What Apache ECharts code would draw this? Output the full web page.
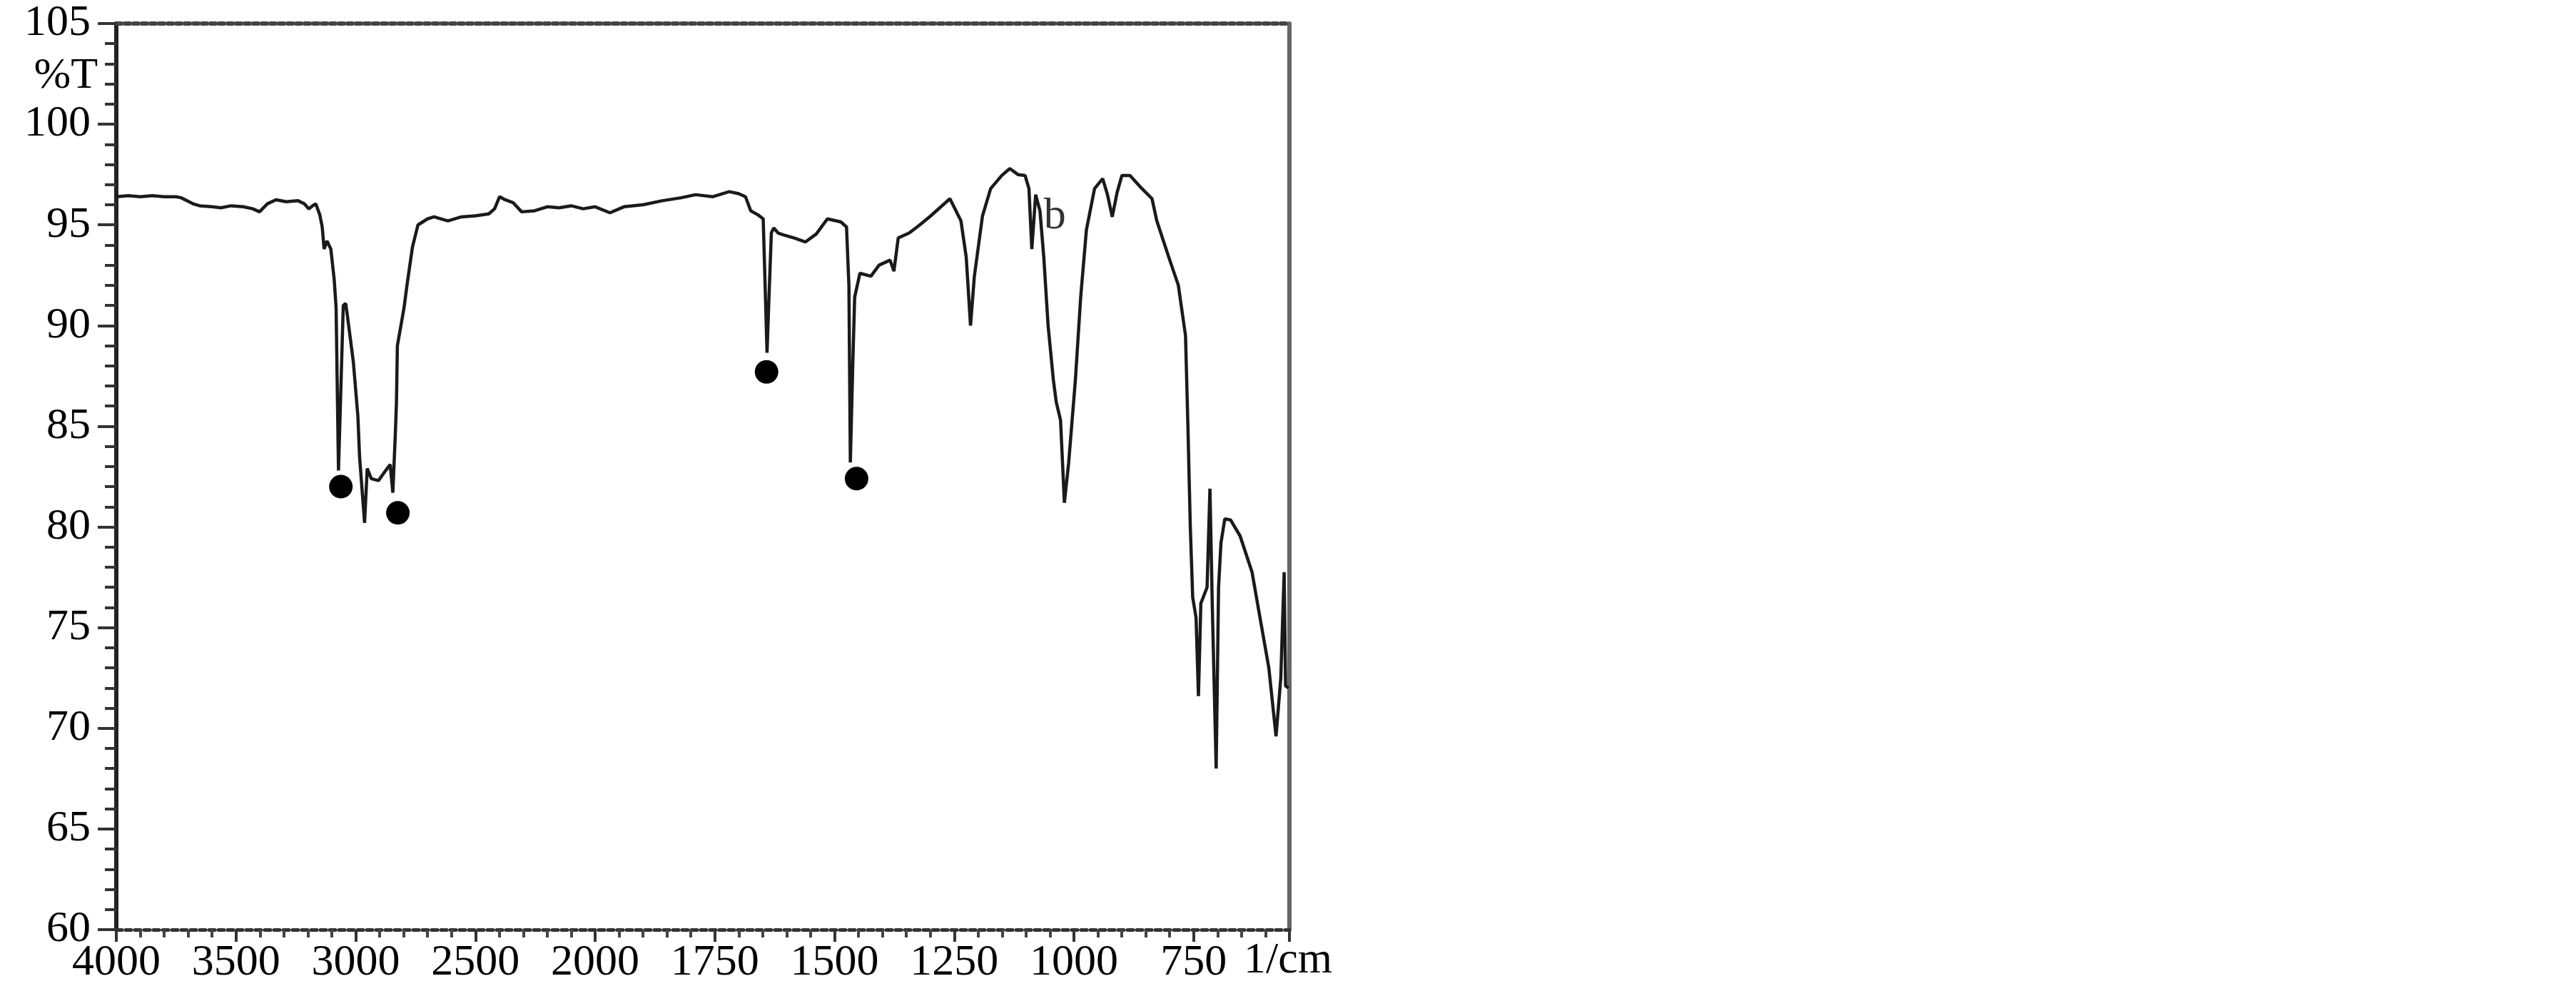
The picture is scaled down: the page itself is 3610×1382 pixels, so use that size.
<!DOCTYPE html>
<html>
<head>
<meta charset="utf-8">
<title>IR spectrum</title>
<script src="https://cdn.jsdelivr.net/npm/echarts@6.0.0/dist/echarts.min.js"></script>
<style>
  html, body { margin: 0; padding: 0; background: #fff; }
  #main { width: 3610px; height: 1382px; }
</style>
</head>
<body>
<div id="main"></div>
<script>
// wavenumber (1/cm) and transmittance (%T)
const wavenumbers = [
  4000, 3950, 3900, 3850, 3800, 3750, 3730, 3705, 3680, 3652, 3600, 3563, 3520, 3470, 3430, 3402,
  3369, 3333, 3290, 3241, 3215, 3196, 3180, 3167, 3150, 3140, 3132, 3120, 3104, 3090, 3082, 3072,
  3052, 3042, 3036, 3010, 2991, 2984, 2963, 2952, 2935, 2905, 2875, 2856, 2845, 2835, 2830, 2826,
  2798, 2786, 2763, 2740, 2700, 2673, 2615, 2558, 2500, 2444, 2420, 2399, 2376, 2342, 2307, 2253,
  2200, 2150, 2100, 2050, 2000, 1969, 1940, 1900, 1860, 1820, 1790, 1754, 1720, 1700, 1686, 1675,
  1660, 1649, 1645, 1641, 1636, 1632, 1627, 1618, 1606, 1584, 1561, 1538, 1515, 1487, 1475, 1470,
  1467, 1462, 1458, 1447, 1424, 1407, 1384, 1376, 1367, 1344, 1322, 1299, 1259, 1236, 1225, 1216,
  1208, 1191, 1174, 1151, 1134, 1117, 1102, 1094, 1088, 1080, 1071, 1063, 1054, 1043, 1037, 1028,
  1020, 1011, 997, 986, 974, 957, 940, 930, 920, 910, 900, 883, 862, 837, 827, 802,
  782, 767, 762, 757, 752, 745, 740, 735, 722, 716, 711, 703, 698, 693, 685, 673,
  653, 628, 613, 593, 578, 568, 561, 558, 552
]
const transmittance = [
  96.4, 96.45, 96.4, 96.45, 96.4, 96.4, 96.35, 96.2, 96.05, 95.95, 95.9, 95.85, 95.95, 95.9, 95.8, 95.65,
  96.05, 96.25, 96.15, 96.2, 96.05, 95.8, 95.95, 96.05, 95.5, 94.9, 93.8, 94.2, 93.8, 92.3, 90.9, 82.8,
  91.0, 91.1, 90.6, 88.2, 85.5, 83.5, 80.2, 82.9, 82.4, 82.3, 82.8, 83.1, 81.7, 84.5, 86.1, 89.0,
  90.9, 92.0, 93.9, 95.0, 95.3, 95.4, 95.2, 95.4, 95.45, 95.55, 95.8, 96.4, 96.25, 96.1, 95.65, 95.7,
  95.9, 95.85, 95.95, 95.8, 95.9, 95.6, 95.9, 96.0, 96.2, 96.35, 96.5, 96.4, 96.65, 96.55, 96.4, 95.7,
  95.5, 95.3, 92.0, 88.65, 92.0, 94.6, 94.85, 94.6, 94.5, 94.35, 94.15, 94.55, 95.3, 95.15, 94.9, 92.0,
  83.2, 88.0, 91.4, 92.6, 92.45, 93.0, 93.25, 92.7, 94.35, 94.6, 95.0, 95.45, 96.3, 95.2, 93.4, 90.0,
  92.45, 95.45, 96.8, 97.45, 97.8, 97.5, 97.45, 96.8, 93.8, 96.5, 95.7, 93.4, 90.0, 87.3, 86.2, 85.3,
  81.2, 83.2, 87.3, 91.4, 94.75, 96.8, 97.3, 96.5, 95.4, 96.6, 97.45, 97.45, 96.9, 96.3, 95.2, 93.4,
  92.0, 89.5, 85.0, 80.0, 76.5, 75.5, 71.6, 76.2, 77.0, 81.9, 76.0, 68.0, 77.0, 79.2, 80.4, 80.35,
  79.55, 77.75, 75.7, 73.0, 69.6, 72.5, 77.75, 72.1, 72.0
]

// marked peaks (black dots)
const peakWave = [3062, 2824, 1642, 1454]
const peakT = [82.0, 80.7, 87.7, 82.4]

// text annotation
const noteText = ['b']
const noteWave = [1040]
const noteT = [95.4]

const yTicks = [60, 65, 70, 75, 80, 85, 90, 95, 100, 105]
const xTickLabels = [4000, 3500, 3000, 2500, 2000, 1750, 1500, 1250, 1000, 750]

// the x axis is split: 4000-2000 at half the scale of 2000-550
function toAxis(w) {
  return w >= 2000 ? (4000 - w) / 2 : 1000 + (2000 - w)
}

const fontFamily = '"Liberation Serif", "Times New Roman", serif'

const chart = echarts.init(document.getElementById('main'))

const option = {
  animation: false,
  backgroundColor: '#fff',
  grid: {
    left: 163,
    right: 1803,
    top: 33,
    bottom: 79,
    containLabel: false
  },
  xAxis: [
    {
      type: 'value',
      position: 'bottom',
      min: 0,
      max: 2450,
      interval: 250,
      axisLine: {
        onZero: false,
        lineStyle: { color: '#333', width: 5, type: [8, 5] }
      },
      axisTick: {
        length: 17,
        lineStyle: { color: '#333', width: 4 }
      },
      minorTick: {
        show: true,
        splitNumber: 5,
        length: 11,
        lineStyle: { color: '#444', width: 4 }
      },
      splitLine: { show: false },
      axisLabel: {
        margin: 16,
        fontFamily: fontFamily,
        fontSize: 62,
        color: '#000',
        showMaxLabel: false,
        formatter: function(u) {
          const i = Math.round(u / 250)
          if (Math.abs(u - i * 250) > 1e-6 || i >= xTickLabels.length) return ''
          return String(xTickLabels[i])
        }
      }
    },
    {
      type: 'value',
      position: 'top',
      min: 0,
      max: 2450,
      axisLine: {
        show: true,
        onZero: false,
        lineStyle: { color: '#444', width: 6, type: [7, 5] }
      },
      axisTick: { show: false },
      axisLabel: { show: false },
      splitLine: { show: false }
    }
  ],
  yAxis: [
    {
      type: 'value',
      position: 'left',
      min: yTicks[0],
      max: yTicks[yTicks.length - 1],
      interval: 5,
      axisLine: {
        show: true,
        onZero: false,
        lineStyle: { color: '#222', width: 6 }
      },
      axisTick: {
        show: true,
        length: 26,
        lineStyle: { color: '#333', width: 4 }
      },
      minorTick: {
        show: true,
        splitNumber: 5,
        length: 16,
        lineStyle: { color: '#333', width: 4 }
      },
      splitLine: { show: false },
      axisLabel: {
        margin: 36,
        fontFamily: fontFamily,
        fontSize: 62,
        color: '#000'
      }
    },
    {
      type: 'value',
      position: 'right',
      min: yTicks[0],
      max: yTicks[yTicks.length - 1],
      axisLine: {
        show: true,
        onZero: false,
        lineStyle: { color: '#666', width: 6 }
      },
      axisTick: { show: false },
      axisLabel: { show: false },
      splitLine: { show: false }
    }
  ],
  graphic: [
    {
      type: 'text',
      x: 137,
      y: 107,
      style: {
        text: '%T',
        font: '62px ' + fontFamily,
        fill: '#000',
        textAlign: 'right',
        textVerticalAlign: 'middle'
      }
    },
    {
      type: 'text',
      x: 1743,
      y: 1347,
      style: {
        text: '1/cm',
        font: '62px ' + fontFamily,
        fill: '#000',
        textAlign: 'left',
        textVerticalAlign: 'middle'
      }
    }
  ],
  series: [
    {
      name: 'spectrum',
      type: 'line',
      data: wavenumbers.map((w, i) => [toAxis(w), transmittance[i]]),
      showSymbol: false,
      symbol: 'none',
      lineStyle: { color: '#1a1a1a', width: 4.5 },
      z: 3
    },
    {
      name: 'peaks',
      type: 'scatter',
      data: peakWave.map((w, i) => [toAxis(w), peakT[i]]),
      symbol: 'circle',
      symbolSize: 33,
      itemStyle: { color: '#000', opacity: 1 },
      z: 4
    },
    {
      name: 'note',
      type: 'scatter',
      data: noteWave.map((w, i) => ({ value: [toAxis(w), noteT[i]], text: noteText[i] })),
      symbolSize: 1,
      itemStyle: { color: 'rgba(0,0,0,0)' },
      label: {
        show: true,
        position: 'inside',
        fontFamily: fontFamily,
        fontSize: 62,
        color: '#000',
        formatter: function(p) { return p.data.text }
      },
      z: 5
    }
  ]
}

chart.setOption(option)
</script>
</body>
</html>
